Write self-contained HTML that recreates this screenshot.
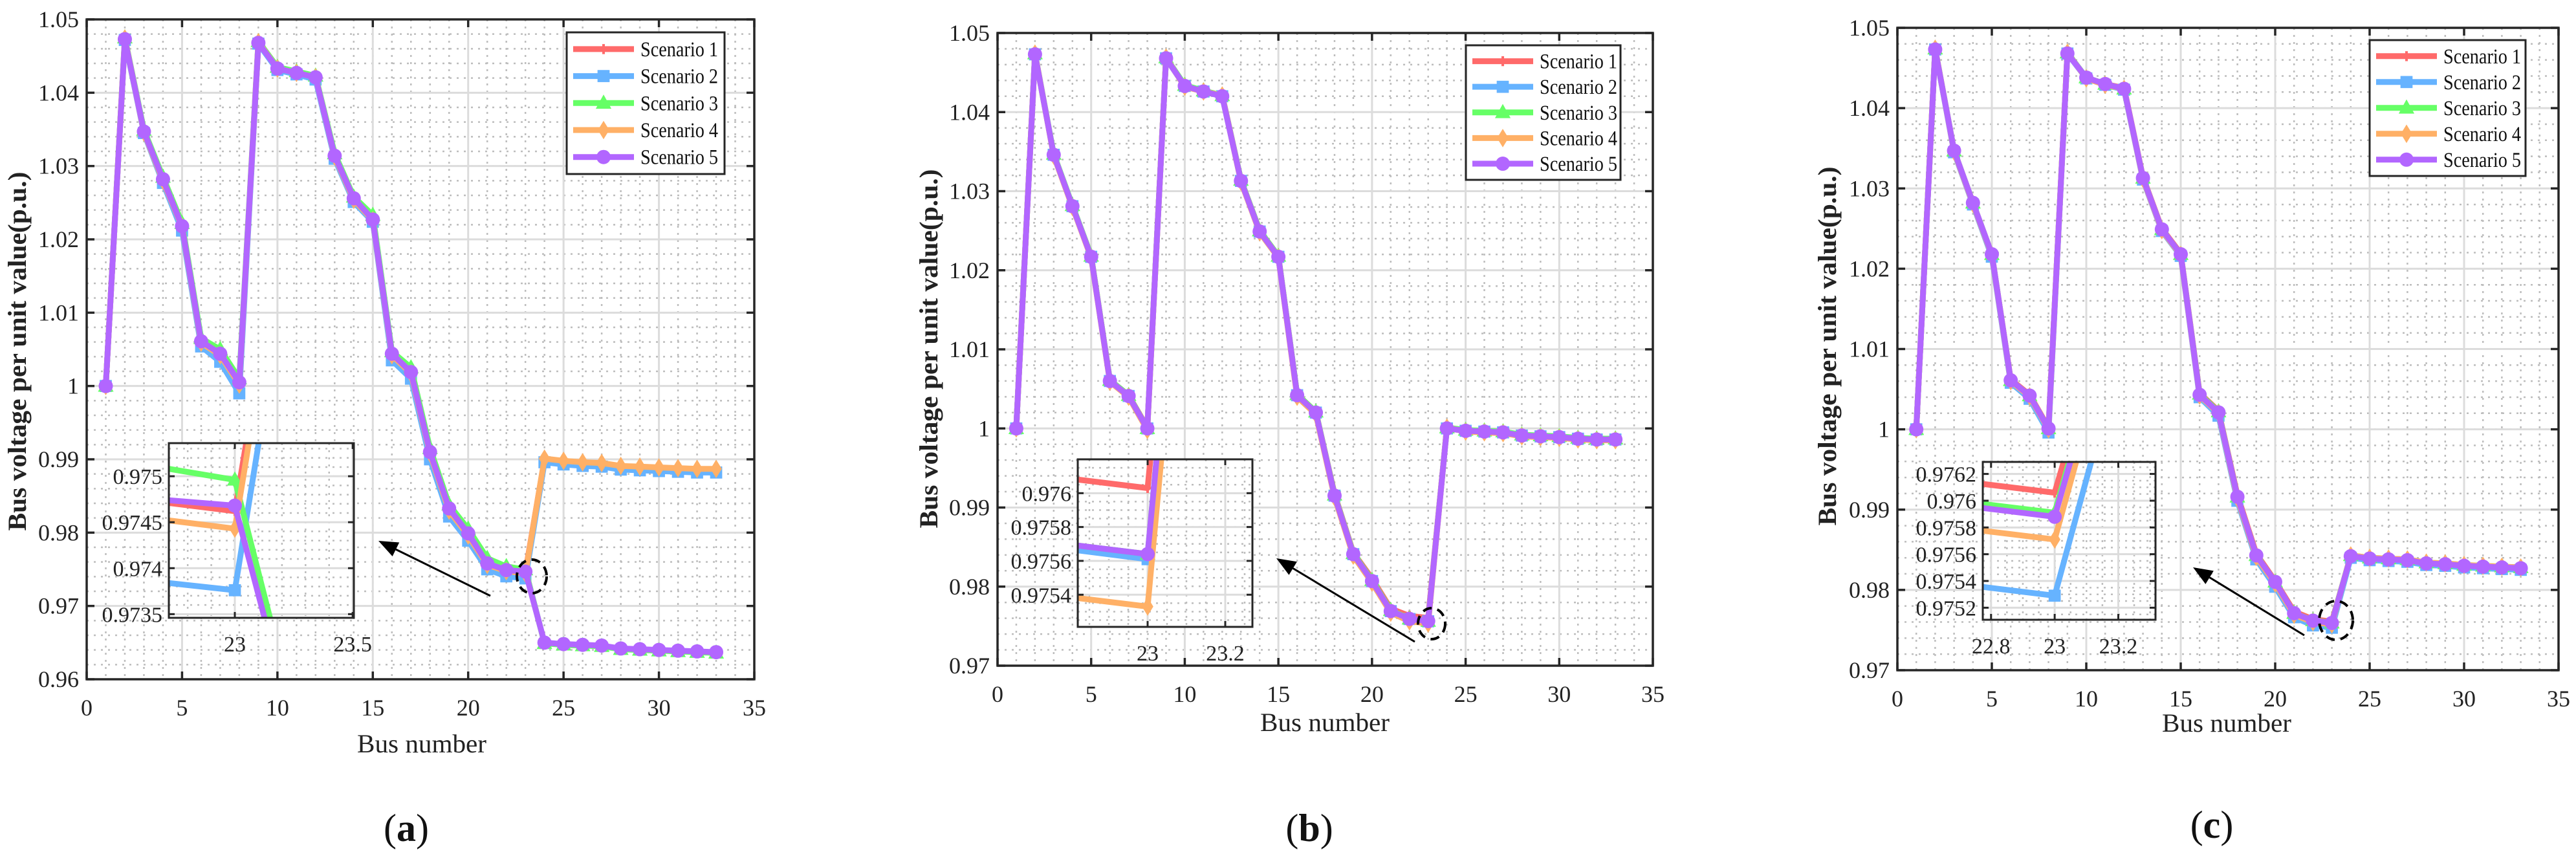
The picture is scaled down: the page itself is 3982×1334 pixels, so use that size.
<!DOCTYPE html>
<html><head><meta charset="utf-8">
<style>
html,body{margin:0;padding:0;background:#fff;width:3982px;height:1334px;overflow:hidden;}
svg{display:block;font-family:"Liberation Serif",serif;}
</style></head>
<body>
<svg id="fig" width="3982" height="1334" viewBox="0 0 3982 1334" xmlns="http://www.w3.org/2000/svg"></svg>
<script>
// ---------- DATA ----------
const buses = [1,2,3,4,5,6,7,8,9,10,11,12,13,14,15,16,17,18,19,20,21,22,23,24,25,26,27,28,29,30,31,32,33];
const scenarioNames = ["Scenario 1","Scenario 2","Scenario 3","Scenario 4","Scenario 5"];
const xTicks = [0,5,10,15,20,25,30,35];
const yTicksA = [0.96,0.97,0.98,0.99,1.00,1.01,1.02,1.03,1.04,1.05];
const yTickLabelsA = ["0.96","0.97","0.98","0.99","1","1.01","1.02","1.03","1.04","1.05"];
const yTicksBC = [0.97,0.98,0.99,1.00,1.01,1.02,1.03,1.04,1.05];
const yTickLabelsBC = ["0.97","0.98","0.99","1","1.01","1.02","1.03","1.04","1.05"];

// panel (a)
const a1 = [1.0000,1.0472,1.0346,1.0280,1.0216,1.0058,1.0040,1.0000,1.0467,1.0432,1.0426,1.0420,1.0312,1.0253,1.0225,1.0040,1.0015,0.9905,0.9828,0.9795,0.9755,0.97494,0.97462,0.9900,0.9897,0.9895,0.9894,0.9890,0.9889,0.9888,0.9887,0.9886,0.9886];
const a2 = [1.0000,1.0472,1.0345,1.0277,1.0212,1.0054,1.0033,0.9990,1.0467,1.0431,1.0425,1.0418,1.0310,1.0251,1.0224,1.0035,1.0010,0.9900,0.9822,0.9789,0.9750,0.97404,0.97376,0.9896,0.9893,0.9891,0.9890,0.9886,0.9885,0.9884,0.9883,0.9882,0.9882];
const a3 = [1.0000,1.0475,1.0349,1.0285,1.0222,1.0065,1.0050,1.0010,1.0470,1.0435,1.0429,1.0423,1.0317,1.0258,1.0233,1.0047,1.0025,0.9915,0.9838,0.9805,0.9765,0.97539,0.97496,0.9649,0.9647,0.9646,0.9645,0.9641,0.9640,0.9639,0.9638,0.9637,0.9636];
const a4 = [1.0000,1.0474,1.0346,1.0280,1.0217,1.0059,1.0042,1.0002,1.0469,1.0433,1.0427,1.0421,1.0313,1.0254,1.0226,1.0042,1.0017,0.9908,0.9830,0.9796,0.9756,0.97475,0.97443,0.9901,0.9898,0.9896,0.9895,0.9891,0.9890,0.9889,0.9888,0.9887,0.9887];
const a5 = [1.0000,1.0473,1.0347,1.0282,1.0218,1.0061,1.0044,1.0005,1.0468,1.0433,1.0427,1.0421,1.0314,1.0256,1.0227,1.0044,1.0019,0.9910,0.9833,0.9799,0.9758,0.97489,0.97468,0.9650,0.9648,0.9647,0.9646,0.9642,0.9641,0.9640,0.9639,0.9638,0.9637];
// panel (b)
const b1 = [1.0000,1.0473,1.0346,1.0281,1.0218,1.0061,1.0042,1.0001,1.0468,1.0433,1.0427,1.0421,1.0314,1.0250,1.0218,1.0043,1.0021,0.9917,0.9843,0.9810,0.9772,0.97631,0.97603,1.0000,0.9997,0.9996,0.9995,0.9991,0.9990,0.9989,0.9987,0.9986,0.9986];
const b2 = [1.0000,1.0473,1.0346,1.0281,1.0217,1.0060,1.0041,1.0000,1.0468,1.0433,1.0426,1.0420,1.0313,1.0249,1.0217,1.0042,1.0020,0.9915,0.9841,0.9807,0.9769,0.97590,0.97561,1.0000,0.9997,0.9996,0.9995,0.9991,0.9990,0.9989,0.9987,0.9986,0.9986];
const b3 = [1.0000,1.0474,1.0347,1.0282,1.0218,1.0061,1.0042,1.0000,1.0469,1.0434,1.0427,1.0421,1.0314,1.0250,1.0218,1.0043,1.0021,0.9916,0.9842,0.9808,0.9770,0.97592,0.97564,1.0001,0.9998,0.9997,0.9996,0.9992,0.9991,0.9990,0.9988,0.9987,0.9987];
const b4 = [1.0000,1.0474,1.0345,1.0280,1.0216,1.0059,1.0040,0.9998,1.0469,1.0432,1.0426,1.0421,1.0312,1.0248,1.0216,1.0040,1.0018,0.9913,0.9839,0.9805,0.9767,0.97561,0.97533,1.0001,0.9996,0.9995,0.9994,0.9990,0.9989,0.9988,0.9986,0.9985,0.9985];
const b5 = [1.0000,1.0473,1.0346,1.0281,1.0217,1.0060,1.0041,1.0000,1.0468,1.0433,1.0426,1.0420,1.0313,1.0249,1.0217,1.0042,1.0020,0.9915,0.9841,0.9807,0.9769,0.97592,0.97564,1.0000,0.9997,0.9996,0.9995,0.9991,0.9990,0.9989,0.9987,0.9986,0.9986];
// panel (c)
const c1 = [1.0000,1.0473,1.0347,1.0282,1.0218,1.0062,1.0043,1.0002,1.0468,1.0438,1.0430,1.0425,1.0314,1.0250,1.0219,1.0045,1.0023,0.9918,0.9845,0.9811,0.9773,0.97635,0.97606,0.9842,0.9839,0.9838,0.9837,0.9833,0.9832,0.9830,0.9829,0.9828,0.9827];
const c2 = [1.0000,1.0473,1.0345,1.0280,1.0215,1.0058,1.0038,0.9996,1.0468,1.0437,1.0429,1.0423,1.0311,1.0247,1.0216,1.0040,1.0017,0.9911,0.9838,0.9804,0.9766,0.97558,0.97529,0.9840,0.9837,0.9836,0.9835,0.9831,0.9830,0.9828,0.9827,0.9826,0.9825];
const c3 = [1.0000,1.0474,1.0347,1.0282,1.0218,1.0061,1.0042,1.0001,1.0469,1.0438,1.0430,1.0424,1.0313,1.0249,1.0218,1.0044,1.0022,0.9916,0.9843,0.9810,0.9771,0.97620,0.97591,0.9843,0.9840,0.9839,0.9838,0.9834,0.9833,0.9831,0.9830,0.9829,0.9828];
const c4 = [1.0000,1.0474,1.0346,1.0281,1.0217,1.0060,1.0041,1.0000,1.0469,1.0437,1.0429,1.0424,1.0312,1.0248,1.0217,1.0042,1.0020,0.9914,0.9841,0.9808,0.9769,0.97600,0.97571,0.9843,0.9840,0.9839,0.9838,0.9834,0.9833,0.9831,0.9830,0.9829,0.9828];
const c5 = [1.0000,1.0473,1.0347,1.0282,1.0218,1.0061,1.0042,1.0001,1.0468,1.0438,1.0430,1.0424,1.0313,1.0249,1.0218,1.0043,1.0021,0.9916,0.9843,0.9810,0.9771,0.97617,0.97588,0.9842,0.9839,0.9838,0.9837,0.9833,0.9832,0.9830,0.9829,0.9828,0.9827];

// inset ticks
const insetYTicksA = [0.9735,0.974,0.9745,0.975];
const insetYLabelsA = ["0.9735","0.974","0.9745","0.975"];
const insetXTicksA = [23,23.5];
const insetXLabelsA = ["23","23.5"];
const insetYTicksB = [0.9754,0.9756,0.9758,0.976];
const insetYLabelsB = ["0.9754","0.9756","0.9758","0.976"];
const insetXTicksB = [23,23.2];
const insetXLabelsB = ["23","23.2"];
const insetYTicksC = [0.9752,0.9754,0.9756,0.9758,0.976,0.9762];
const insetYLabelsC = ["0.9752","0.9754","0.9756","0.9758","0.976","0.9762"];
const insetXTicksC = [22.8,23,23.2];
const insetXLabelsC = ["22.8","23","23.2"];

// ---------- LAYOUT ----------
const colors = ["#ff6a6a","#66b3ff","#66ff66","#ffb066","#b266ff"];
const markers = ["plus","square","triangle","diamond","circle"];
const NS = "http://www.w3.org/2000/svg";
const svg = document.getElementById("fig");
function el(tag, attrs, parent){ const e=document.createElementNS(NS,tag); for(const k in attrs) e.setAttribute(k,attrs[k]); (parent||svg).appendChild(e); return e; }

const panels = [
 {id:"a", series:[a1,a2,a3,a4,a5], L:134,R:1166,T:30,B:1050, y0:0.96,y1:1.05, yt:yTicksA, yl:yTickLabelsA,
  leg:{x:876,y:50,w:244,h:219}, ylab:{x:40,y:543}, xlab:{x:652,y:1163}, cap:{x:628,y:1300},
  inset:{L:261,R:547,T:685,B:955,x0:22.72,x1:23.505,y0:0.97346,y1:0.97536, yt:insetYTicksA, yl:insetYLabelsA, xt:insetXTicksA, xl:insetXLabelsA, minY:0.0001, minX:0.1},
  arrow:{x1:758,y1:921,x2:585,y2:836}, circ:{cx:822,cy:891,rx:23,ry:26}},
 {id:"b", series:[b1,b2,b3,b4,b5], L:1542,R:2555,T:51,B:1029, y0:0.97,y1:1.05, yt:yTicksBC, yl:yTickLabelsBC,
  leg:{x:2266,y:70,w:239,h:208}, ylab:{x:1449,y:539}, xlab:{x:2048,y:1130}, cap:{x:2024,y:1300},
  inset:{L:1666,R:1936,T:710,B:969,x0:22.82,x1:23.27,y0:0.97521,y1:0.97620, yt:insetYTicksB, yl:insetYLabelsB, xt:insetXTicksB, xl:insetXLabelsB, minY:0.00005, minX:0.05},
  arrow:{x1:2187,y1:992,x2:1973,y2:863}, circ:{cx:2213,cy:964,rx:21,ry:24}},
 {id:"c", series:[c1,c2,c3,c4,c5], L:2933,R:3955,T:43,B:1036, y0:0.97,y1:1.05, yt:yTicksBC, yl:yTickLabelsBC,
  leg:{x:3663,y:62,w:241,h:210}, ylab:{x:2838,y:535}, xlab:{x:3442,y:1131}, cap:{x:3419,y:1295},
  inset:{L:3065,R:3332,T:714,B:958,x0:22.774,x1:23.317,y0:0.97511,y1:0.97629, yt:insetYTicksC, yl:insetYLabelsC, xt:insetXTicksC, xl:insetXLabelsC, minY:0.00005, minX:0.05},
  arrow:{x1:3562,y1:982,x2:3390,y2:877}, circ:{cx:3611,cy:959,rx:26,ry:30}}
];

function drawMarker(g, kind, x, y, s, color, name){
  let m;
  if(kind==="circle") m=el("circle",{cx:x,cy:y,r:s,fill:color},g);
  else if(kind==="square") m=el("rect",{x:x-s*0.85,y:y-s*0.85,width:s*1.7,height:s*1.7,fill:color},g);
  else if(kind==="triangle") m=el("polygon",{points:`${x},${y-s*1.2} ${x-s*1.1},${y+s*0.8} ${x+s*1.1},${y+s*0.8}`,fill:color},g);
  else if(kind==="diamond") m=el("polygon",{points:`${x},${y-s*1.3} ${x+s*0.8},${y} ${x},${y+s*1.3} ${x-s*0.8},${y}`,fill:color},g);
  else m=el("path",{d:`M${x-s*0.7},${y}H${x+s*0.7}M${x},${y-s*0.7}V${y+s*0.7}`,stroke:color,"stroke-width":4,fill:"none"},g);
  
  
}

function drawAxesGrid(g, L,R,T,B, sx, sy, xMajor, yMajor, xMinor, yMinor){
  for(const v of xMinor){ const x=sx(v); if(x<=L+1||x>=R-1) continue; el("line",{x1:x,y1:T,x2:x,y2:B,stroke:"#bdbdbd","stroke-width":2.5,"stroke-dasharray":"3 8"},g); }
  for(const v of yMinor){ const y=sy(v); if(y<=T+1||y>=B-1) continue; el("line",{x1:L,y1:y,x2:R,y2:y,stroke:"#bdbdbd","stroke-width":2.5,"stroke-dasharray":"3 8"},g); }
  for(const v of xMajor){ const x=sx(v); if(x<=L+1||x>=R-1) continue; el("line",{x1:x,y1:T,x2:x,y2:B,stroke:"#dcdcdc","stroke-width":3},g); }
  for(const v of yMajor){ const y=sy(v); if(y<=T+1||y>=B-1) continue; el("line",{x1:L,y1:y,x2:R,y2:y,stroke:"#dcdcdc","stroke-width":3},g); }
}

panels.forEach(p=>{
  const g = el("g",{});
  
  
  const sx = v => p.L + (v-0)/(35-0)*(p.R-p.L);
  const sy = v => p.B - (v-p.y0)/(p.y1-p.y0)*(p.B-p.T);
  el("rect",{x:p.L,y:p.T,width:p.R-p.L,height:p.B-p.T,fill:"#fff"},g);
  const xMin=[]; for(let i=0;i<=35;i++) xMin.push(i);
  const yMin=[]; for(let v=p.y0; v<=p.y1+1e-9; v+=0.002) yMin.push(+v.toFixed(4));
  drawAxesGrid(g,p.L,p.R,p.T,p.B,sx,sy,xTicks,p.yt,xMin,yMin);
  p.series.forEach((s,k)=>{
    const sg = el("g",{},g);
    
    
    const d = s.map((v,i)=>(i?"L":"M")+sx(buses[i]).toFixed(1)+","+sy(v).toFixed(1)).join("");
    el("path",{d:d,fill:"none",stroke:colors[k],"stroke-width":9,"stroke-linejoin":"round"},sg);
    s.forEach((v,i)=>drawMarker(sg,markers[k],sx(buses[i]),sy(v),11,colors[k],'point-'+p.id+'-s'+(k+1)+'-bus'+buses[i]));
  });
  const fr = el("rect",{x:p.L,y:p.T,width:p.R-p.L,height:p.B-p.T,fill:"none",stroke:"#262626","stroke-width":3.5},g);
  
  
  xTicks.forEach((v,i)=>{
    const x=sx(v);
    el("line",{x1:x,y1:p.B,x2:x,y2:p.B-12,stroke:"#262626","stroke-width":3.5},g);
    el("line",{x1:x,y1:p.T,x2:x,y2:p.T+12,stroke:"#262626","stroke-width":3.5},g);
    const t=el("text",{x:x,y:p.B+56,"font-size":36,"text-anchor":"middle",fill:"#222"},g);
    t.textContent=String(v);
    
    
  });
  p.yt.forEach((v,i)=>{
    const y=sy(v);
    el("line",{x1:p.L,y1:y,x2:p.L+12,y2:y,stroke:"#262626","stroke-width":3.5},g);
    el("line",{x1:p.R,y1:y,x2:p.R-12,y2:y,stroke:"#262626","stroke-width":3.5},g);
    const t=el("text",{x:p.L-12,y:y+12,"font-size":36,"text-anchor":"end",fill:"#222"},g);
    t.textContent=p.yl[i];
    
    
  });
  const xt=el("text",{x:p.xlab.x,y:p.xlab.y,"font-size":40,"text-anchor":"middle",fill:"#222",textLength:200,lengthAdjust:"spacingAndGlyphs"},g);
  xt.textContent="Bus number";
  
  
  const yt=el("text",{x:0,y:0,"font-size":40,"font-weight":"bold","text-anchor":"middle",fill:"#222",transform:`translate(${p.ylab.x},${p.ylab.y}) rotate(-90)`,textLength:555,lengthAdjust:"spacingAndGlyphs"},g);
  yt.textContent="Bus voltage per unit value(p.u.)";
  
  
  const lg=el("g",{},g);
  
  
  el("rect",{x:p.leg.x,y:p.leg.y,width:p.leg.w,height:p.leg.h,fill:"#fff",stroke:"#262626","stroke-width":3},lg);
  const rowH=p.leg.h/5.25;
  scenarioNames.forEach((nm,k)=>{
    const ry=p.leg.y+rowH*(0.62+k);
    const eg=el("g",{},lg);
    
    
    el("line",{x1:p.leg.x+10,y1:ry,x2:p.leg.x+104,y2:ry,stroke:colors[k],"stroke-width":9},eg);
    drawMarker(eg,markers[k],p.leg.x+57,ry,11,colors[k],'legend-marker-'+(k+1));
    const t=el("text",{x:p.leg.x+114,y:ry+11,"font-size":33,fill:"#111",textLength:120,lengthAdjust:"spacingAndGlyphs"},eg);
    t.textContent=nm;
  });
  const I=p.inset;
  const ig=el("g",{},g);
  
  
  const ix=v=>I.L+(v-I.x0)/(I.x1-I.x0)*(I.R-I.L);
  const iy=v=>I.B-(v-I.y0)/(I.y1-I.y0)*(I.B-I.T);
  el("rect",{x:I.L,y:I.T,width:I.R-I.L,height:I.B-I.T,fill:"#fff"},ig);
  const ixm=[]; for(let v=Math.ceil(I.x0/I.minX)*I.minX; v<=I.x1; v+=I.minX) ixm.push(+v.toFixed(4));
  const iym=[]; for(let v=Math.ceil(I.y0/I.minY)*I.minY; v<=I.y1; v+=I.minY) iym.push(+v.toFixed(6));
  drawAxesGrid(ig,I.L,I.R,I.T,I.B,ix,iy,I.xt,I.yt,ixm,iym);
  const cid="clip-"+p.id;
  const cp=el("clipPath",{id:cid},ig);
  el("rect",{x:I.L,y:I.T,width:I.R-I.L,height:I.B-I.T},cp);
  const cg=el("g",{"clip-path":`url(#${cid})`},ig);
  p.series.forEach((s,k)=>{
    const d=s.map((v,i)=>(i?"L":"M")+ix(buses[i]).toFixed(1)+","+iy(v).toFixed(1)).join("");
    const pth=el("path",{d:d,fill:"none",stroke:colors[k],"stroke-width":9,"stroke-linejoin":"round"},cg);
    
    
    s.forEach((v,i)=>{ const X=ix(buses[i]); if(X>I.L-20&&X<I.R+20) drawMarker(cg,markers[k],X,iy(v),11,colors[k],'inset-point-'+p.id+'-s'+(k+1)); });
  });
  el("rect",{x:I.L,y:I.T,width:I.R-I.L,height:I.B-I.T,fill:"none",stroke:"#262626","stroke-width":3},ig);
  I.yt.forEach((v,i)=>{
    const y=iy(v);
    el("line",{x1:I.L,y1:y,x2:I.L+9,y2:y,stroke:"#262626","stroke-width":3},ig);
    el("line",{x1:I.R,y1:y,x2:I.R-9,y2:y,stroke:"#262626","stroke-width":3},ig);
    const t=el("text",{x:I.L-10,y:y+12,"font-size":34,"text-anchor":"end",fill:"#222"},ig);
    t.textContent=I.yl[i];
    
    
  });
  I.xt.forEach((v,i)=>{
    const x=ix(v);
    el("line",{x1:x,y1:I.B,x2:x,y2:I.B-9,stroke:"#262626","stroke-width":3},ig);
    el("line",{x1:x,y1:I.T,x2:x,y2:I.T+9,stroke:"#262626","stroke-width":3},ig);
    const t=el("text",{x:x,y:I.B+52,"font-size":34,"text-anchor":"middle",fill:"#222"},ig);
    t.textContent=I.xl[i];
    
    
  });
  const A=p.arrow;
  const ar=el("g",{},g);
  
  
  const ang=Math.atan2(A.y2-A.y1,A.x2-A.x1), hl=30, hw=12;
  const bx=A.x2-hl*Math.cos(ang), by=A.y2-hl*Math.sin(ang);
  el("line",{x1:A.x1,y1:A.y1,x2:bx,y2:by,stroke:"#000","stroke-width":3},ar);
  el("polygon",{points:`${A.x2},${A.y2} ${bx+hw*Math.sin(ang)},${by-hw*Math.cos(ang)} ${bx-hw*Math.sin(ang)},${by+hw*Math.cos(ang)}`,fill:"#000"},ar);
  const ce=el("ellipse",{cx:p.circ.cx,cy:p.circ.cy,rx:p.circ.rx,ry:p.circ.ry,fill:"none",stroke:"#000","stroke-width":4,"stroke-dasharray":"14 9"},g);
  
  
  const cap=el("text",{x:p.cap.x,y:p.cap.y,"font-size":60,"text-anchor":"middle",fill:"#111"},g);
  
  
  const t1=el("tspan",{},cap); t1.textContent="(";
  const t2=el("tspan",{"font-weight":"bold"},cap); t2.textContent=p.id;
  const t3=el("tspan",{},cap); t3.textContent=")";
});
</script>
</body></html>
